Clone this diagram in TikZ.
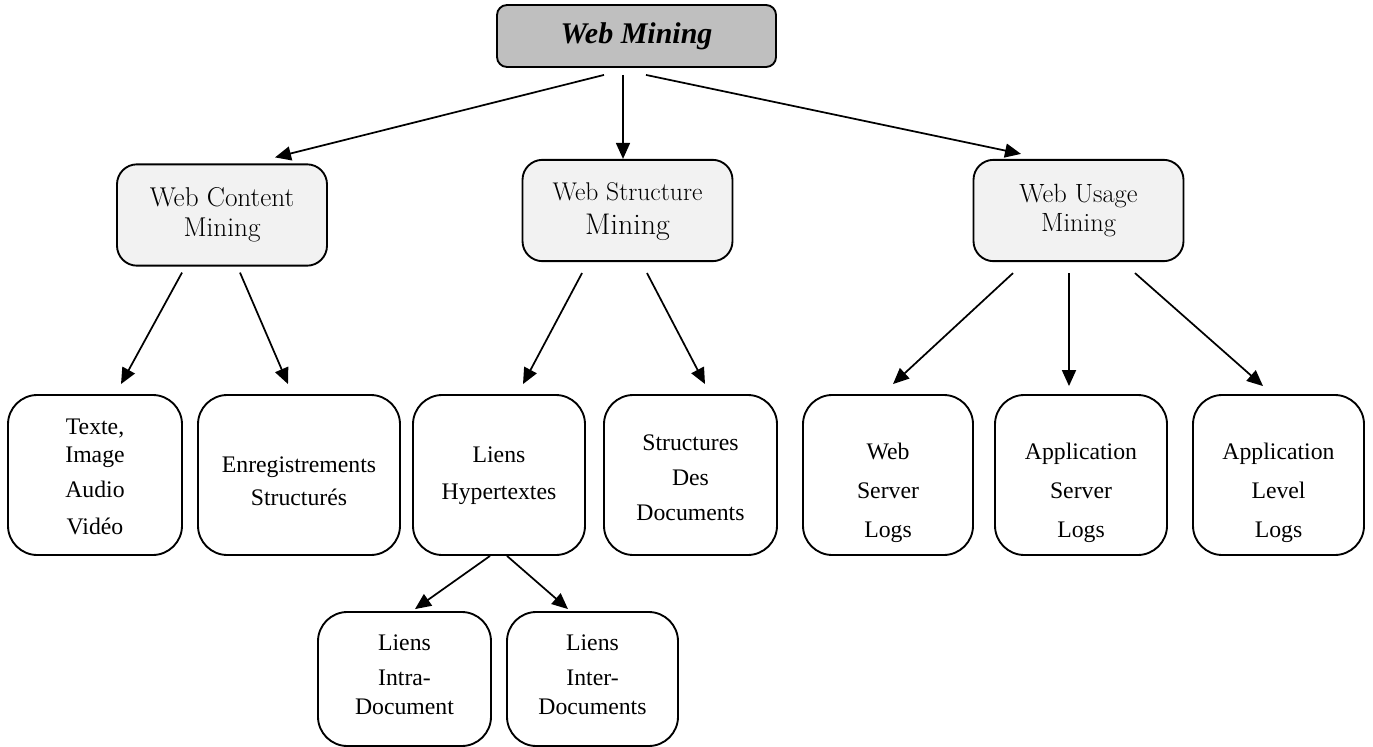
\documentclass[tikz,border=0pt]{standalone}
\usepackage{fontspec}
\newfontfamily\tnr{Liberation Serif}
\usetikzlibrary{arrows.meta,calc}
\newcommand\tl[2]{\raisebox{#1}[0pt][0pt]{\begin{tabular}[c]{@{}c@{}}#2\end{tabular}}}
\definecolor{topgray}{HTML}{BFBFBF}
\definecolor{midgray}{HTML}{F2F2F2}
\begin{document}
\begin{tikzpicture}[x=0.75pt,y=-0.75pt,
 topbox/.style={draw,line width=1.4pt,rounded corners=7.5pt,fill=topgray,minimum width=209.25pt,minimum height=46.5pt,inner sep=0pt,font=\tnr\bfseries\itshape\fontsize{22.5}{27}\selectfont},
 midbox/.style={draw,line width=1.4pt,rounded corners=15pt,fill=midgray,minimum width=157.5pt,minimum height=76pt,inner sep=0pt,font=\fontsize{20.4}{22.5}\selectfont},
 leafbox/.style={draw,line width=1.4pt,rounded corners=22pt,minimum height=120pt,inner sep=0pt,font=\tnr\fontsize{17.8}{26.25}\selectfont},
 arr/.style={line width=1.3pt,-{Triangle[length=12pt,width=10.5pt]}}]
\useasboundingbox (0,0) rectangle (1373,746);

\node[topbox] (top) at (636.5,36) {Web Mining};

\node[midbox] (wcm) at (222,215) {\tl{-5.4pt}{Web Content\\Mining}};
\node[midbox] (wsm) at (627.5,210.5) {\tl{-6pt}{{\fontsize{19.2}{22.5}\selectfont Web Structure}\\[3pt]{\fontsize{22.4}{22.5}\selectfont Mining}}};
\node[midbox] (wum) at (1078.5,210.5) {\tl{-5.4pt}{{\fontsize{19.8}{22.5}\selectfont Web Usage}\\[-0.75pt]{\fontsize{19.8}{22.5}\selectfont Mining}}};

\node[leafbox,minimum width=130.5pt] (texte) at (95,475) {\tl{-5.95pt}{Texte,\\[-5.25pt]Image\\Audio\\[1.5pt]Vidéo}};
\node[leafbox,minimum width=151.5pt] (enreg) at (299,475) {\tl{-9.35pt}{Enregistrements\\[-1.5pt]Structurés}};
\node[leafbox,minimum width=129pt] (lh) at (499,475) {\tl{-3.35pt}{Liens\\[1.5pt]Hypertextes}};
\node[leafbox,minimum width=129.75pt] (struct) at (690.5,475) {\tl{-6.7pt}{Structures\\Des\\Documents}};
\node[leafbox,minimum width=127.5pt] (wsl) at (888,475) {\tl{-16.45pt}{Web\\[3pt]Server\\[3pt]Logs}};
\node[leafbox,minimum width=129pt] (asl) at (1081,475) {\tl{-16.45pt}{Application\\[3pt]Server\\[3pt]Logs}};
\node[leafbox,minimum width=128.25pt] (alog) at (1278.5,475) {\tl{-16.45pt}{Application\\[3pt]Level\\[3pt]Logs}};

\node[leafbox,minimum width=129.75pt,minimum height=100.5pt] (intra) at (404.5,679) {\tl{-1.45pt}{Liens\\Intra-\\[-4.5pt]Document}};
\node[leafbox,minimum width=128.25pt,minimum height=100.5pt] (inter) at (592.5,679) {\tl{-1.45pt}{Liens\\Inter-\\[-4.5pt]Documents}};

\draw[arr] ($(top.south)+(-32.5,7)$) -- ($(wcm.north)+(53,-6)$);
\draw[arr] ($(top.south)+(-13.5,7)$) -- ($(wsm.north)+(-4.5,0)$);
\draw[arr] ($(top.south)+(9.5,7)$) -- ($(wum.north)+(-57.5,-5)$);

\draw[arr] ($(wcm.south)+(-40,6)$) -- ($(texte.north)+(26,-10)$);
\draw[arr] ($(wcm.south)+(18,6)$) -- ($(enreg.north)+(-11,-10)$);

\draw[arr] ($(wsm.south)+(-45.5,11)$) -- ($(lh.north)+(24,-10)$);
\draw[arr] ($(wsm.south)+(19.5,11)$) -- ($(struct.north)+(14.5,-10)$);

\draw[arr] ($(wum.south)+(-65.5,11)$) -- ($(wsl.north)+(5,-10)$);
\draw[arr] ($(wum.south)+(-9.5,11)$) -- ($(asl.north)+(-12,-8)$);
\draw[arr] ($(wum.south)+(56.5,11)$) -- ($(alog.north)+(-15.5,-8)$);

\draw[arr] ($(lh.south)+(-9,0)$) -- ($(intra.north)+(10.5,-2)$);
\draw[arr] ($(lh.south)+(8,0)$) -- ($(inter.north)+(-24.5,-2)$);
\end{tikzpicture}
\end{document}
